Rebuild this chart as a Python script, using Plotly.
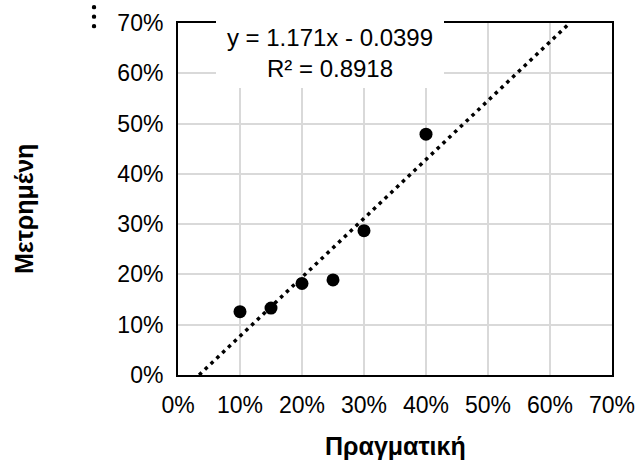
import plotly.graph_objects as go

# Actual vs measured values (fractions)
actual = [0.10, 0.15, 0.20, 0.25, 0.30, 0.40]
measured = [0.126, 0.133, 0.182, 0.189, 0.287, 0.479]

# Linear trendline coefficients and fit quality
slope = 1.171
intercept = -0.0399
r_squared = 0.8918

tick_vals = [0.0, 0.1, 0.2, 0.3, 0.4, 0.5, 0.6, 0.7]
tick_text = ["0%", "10%", "20%", "30%", "40%", "50%", "60%", "70%"]
x_title = "Πραγματική"
y_title = "Μετρημένη"

axis_min, axis_max = 0.0, 0.7

# Trendline spans from where it crosses y=0 to where it reaches the top of the axis
x_start = (axis_min - intercept) / slope
x_end = (axis_max - intercept) / slope
trend_x = [x_start, x_end]
trend_y = [slope * v + intercept for v in trend_x]

FONT = "Liberation Sans, Arial, sans-serif"
fig = go.Figure()

fig.add_trace(go.Scatter(
    x=trend_x, y=trend_y, mode="lines",
    line=dict(color="black", width=3.5, dash="3.5px,4.5px"),
    hoverinfo="skip", showlegend=False,
))
fig.add_trace(go.Scatter(
    x=actual, y=measured, mode="markers",
    marker=dict(color="black", size=13, line=dict(width=0)),
    showlegend=False,
))

axis_common = dict(
    range=[axis_min, axis_max],
    tickvals=tick_vals, ticktext=tick_text,
    showgrid=True, gridcolor="#d9d9d9", gridwidth=1.5,
    showline=True, linecolor="black", linewidth=2, mirror=True,
    zeroline=False, ticks="", automargin=False,
    tickfont=dict(family=FONT, size=23, color="black"),
)

fig.update_layout(
    width=637, height=466,
    margin=dict(l=178, r=25, t=23, b=91),
    paper_bgcolor="white", plot_bgcolor="white",
    xaxis=dict(**axis_common, ticklabelstandoff=8),
    yaxis=dict(**axis_common, ticklabelstandoff=8),
)

# Axis titles
fig.add_annotation(
    x=0.5, y=-0.2017, xref="paper", yref="paper",
    xanchor="center", yanchor="middle",
    text=f"<b>{x_title}</b>", showarrow=False,
    font=dict(family=FONT, size=25, color="black"),
)
fig.add_annotation(
    x=-0.3548, y=0.4716, xref="paper", yref="paper",
    xanchor="center", yanchor="middle",
    text=f"<b>{y_title}</b>", showarrow=False, textangle=-90,
    font=dict(family=FONT, size=25, color="black"),
)

# Trendline equation box
fig.add_annotation(
    x=0.245, y=0.640, xref="x", yref="y",
    text=f"y = {slope}x - {abs(intercept)}<br>R² = {r_squared}",
    showarrow=False, bgcolor="white", borderpad=0, borderwidth=0,
    width=228, height=70,
    font=dict(family=FONT, size=24, color="black"),
)

# Small vertical ellipsis at the top-left corner
for py in (1.045, 1.018, 0.991):
    fig.add_shape(
        type="circle", xref="paper", yref="paper",
        xsizemode="pixel", ysizemode="pixel",
        xanchor=-0.1935, yanchor=py,
        x0=-2.2, x1=2.2, y0=-2.2, y1=2.2,
        fillcolor="black", line=dict(width=0),
    )

fig.write_html("out.html")
